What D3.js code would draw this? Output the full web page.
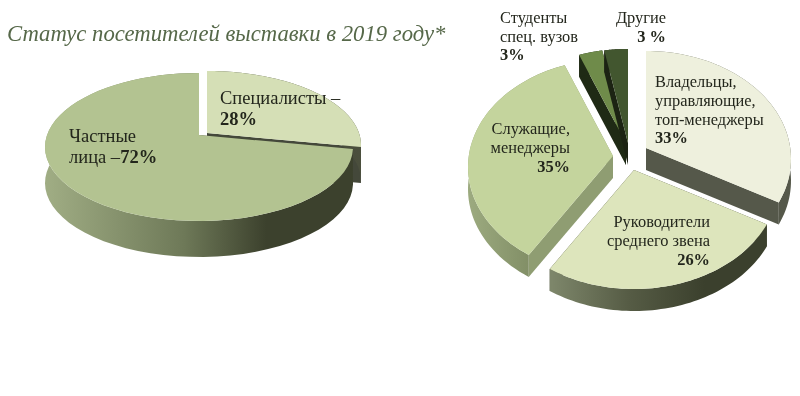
<!DOCTYPE html>
<html>
<head>
<meta charset="utf-8">
<script src="https://cdn.jsdelivr.net/npm/d3@7"></script>
<style>
  html, body { margin: 0; padding: 0; background: #fff; }
  svg { display: block; filter: blur(0.4px); }
  text { font-family: "Liberation Serif", serif; fill: #23261c; }
</style>
</head>
<body>
<script>
// data
var leftCategories = ["Специалисты", "Частные лица"];
var leftValues = [28, 72];
var rightCategories = ["Владельцы, управляющие, топ-менеджеры", "Руководители среднего звена", "Служащие, менеджеры", "Студенты спец. вузов", "Другие"];
var rightValues = [33, 26, 35, 3, 3];

var titleText = "Статус посетителей выставки в 2019 году*";

// label lines, [text, bold]
var leftLabels = [
  [["Специалисты –", 0], ["28%", 1]],
  [["Частные", 0], ["лица –", 0, "72%"]]
];
var rightLabels = [
  [["Владельцы,", 0], ["управляющие,", 0], ["топ-менеджеры", 0], ["33%", 1]],
  [["Руководители", 0], ["среднего звена", 0], ["26%", 1]],
  [["Служащие,", 0], ["менеджеры", 0], ["35%", 1]],
  [["Студенты", 0], ["спец. вузов", 0], ["3%", 1]],
  [["Другие", 0], ["3 %", 1]]
];

// layout
var width = 800, height = 396;

var leftPie = {
  rx: 154, ry: 74, drop: 12, depth: 36, fontSize: 18.5,
  apex: [[207, 133], [199, 135]],
  scale: [1, 1],
  top: ["#d5dfb6", "#b3c391"],
  rim: ["rimDark", "rimLeft"],
  face: ["#44483a", "#44483a"],
  order: [0, 1],
  labelPos: [[220, 104, 21, "start"], [69, 142, 20.5, "start"]]
};
var rightPie = {
  rx: 145, ry: 108, drop: 11, depth: 22, fontSize: 16.4,
  apex: [[646, 148], [634, 170], [613, 156], [626, 143], [628, 143]],
  scale: [1, 1, 1, 0.97, 0.97],
  top: ["#eef0dd", "#dde5bc", "#c4d49d", "#6f8b4a", "#42562f"],
  rim: ["rimDarkGrey", "rimRight2", "rimRight3", "#1f2a15", "#1c2313"],
  face: ["#55584a", "#3a3f2b", "#8f9d72", "#1f2a15", "#1c2313"],
  order: [3, 4, 2, 0, 1],
  labelPos: [[655, 87, 18.8, "start"], [710, 227, 19, "end"], [570, 134, 19, "end"], [500, 23, 18.5, "start"], [666, 23, 19, "end"]]
};

var svg = d3.select("body").append("svg")
  .attr("width", width)
  .attr("height", height);

var defs = svg.append("defs");

function addGradient(id, x1, x2, stops) {
  var g = defs.append("linearGradient")
    .attr("id", id)
    .attr("gradientUnits", "userSpaceOnUse")
    .attr("x1", x1).attr("y1", 0)
    .attr("x2", x2).attr("y2", 0);
  stops.forEach(function(s) {
    g.append("stop").attr("offset", s[0]).attr("stop-color", s[1]);
  });
}
addGradient("rimLeft", 46, 352, [[0, "#a0ad84"], [0.45, "#6e7958"], [0.72, "#3c412d"], [1, "#3c412d"]]);
addGradient("rimDark", 200, 360, [[0, "#3c412d"], [1, "#4b4f3d"]]);
addGradient("rimDarkGrey", 640, 790, [[0, "#55584a"], [1, "#55584a"]]);
addGradient("rimRight2", 552, 770, [[0, "#7d866a"], [0.35, "#565c45"], [0.7, "#3b402d"], [1, "#3b402d"]]);
addGradient("rimRight3", 467, 540, [[0, "#9dab80"], [1, "#7d8a62"]]);

function paint(name) {
  return name.charAt(0) === "#" ? name : "url(#" + name + ")";
}

var line = d3.line();

// point of the rim seen from the apex, apex sits above the ellipse centre (perspective)
function rimPoint(cfg, i, a) {
  var K = cfg.drop / cfg.ry;
  var c = Math.cos(a), s = Math.sin(a);
  var t = -c * K + Math.sqrt(c * c * K * K - K * K + 1);
  return [cfg.apex[i][0] + cfg.rx * cfg.scale[i] * s * t,
          cfg.apex[i][1] - cfg.ry * cfg.scale[i] * c * t];
}

function drawPie(cfg, values, labels) {
  var arcs = d3.pie().sort(null)(values);
  var g = svg.append("g");

  cfg.order.forEach(function(i) {
    var d = arcs[i];
    var apex = cfg.apex[i];
    var steps = d3.range(0, 61).map(function(k) {
      return d.startAngle + (d.endAngle - d.startAngle) * k / 60;
    });
    var rim = steps.map(function(a) { return rimPoint(cfg, i, a); });
    var down = function(p) { return [p[0], p[1] + cfg.depth]; };
    var first = rim[0], last = rim[rim.length - 1];

    // cut faces
    g.append("path").attr("d", line([apex, first, down(first), down(apex)]) + "Z").attr("fill", cfg.face[i]);
    g.append("path").attr("d", line([apex, last, down(last), down(apex)]) + "Z").attr("fill", cfg.face[i]);
    // outer wall
    g.append("path").attr("d", line(rim.concat(rim.map(down).reverse())) + "Z").attr("fill", paint(cfg.rim[i]));
    // top
    g.append("path").attr("d", line([apex].concat(rim)) + "Z").attr("fill", cfg.top[i]);
  });

  labels.forEach(function(lines, i) {
    var pos = cfg.labelPos[i];
    var t = svg.append("text")
      .attr("text-anchor", pos[3])
      .style("font-size", cfg.fontSize + "px");
    lines.forEach(function(l, k) {
      t.append("tspan")
        .attr("x", pos[0])
        .attr("y", pos[1] + k * pos[2])
        .style("font-weight", l[1] ? "bold" : "normal")
        .text(l[0]);
      if (l[2]) t.append("tspan").style("font-weight", "bold").text(l[2]);
    });
  });
}

svg.append("text")
  .attr("x", 7)
  .attr("y", 41)
  .style("font-size", "22.7px")
  .style("font-style", "italic")
  .style("fill", "#566849")
  .text(titleText);

drawPie(leftPie, leftValues, leftLabels);
drawPie(rightPie, rightValues, rightLabels);
</script>
</body>
</html>
